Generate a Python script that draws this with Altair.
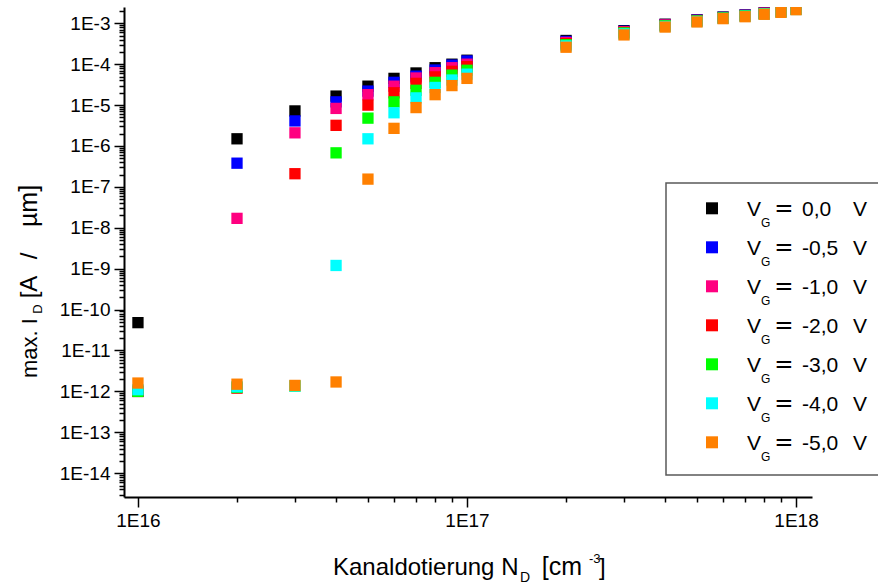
import altair as alt
import pandas as pd

# ---------------- data ----------------
doping = [1e16, 2e16, 3e16, 4e16, 5e16, 6e16, 7e16, 8e16, 9e16, 1e17,
          2e17, 3e17, 4e17, 5e17, 6e17, 7e17, 8e17, 9e17, 1e18]

series_names = ["0,0 V", "-0,5 V", "-1,0 V", "-2,0 V", "-3,0 V", "-4,0 V", "-5,0 V"]
series_numbers = ["0,0", "-0,5", "-1,0", "-2,0", "-3,0", "-4,0", "-5,0"]
series_colors = ["#000000", "#0000FF", "#FF0080", "#FF0000", "#00FF00", "#00FFFF", "#FF8000"]

id_vg_0_0 = [4.8e-11, 1.5e-6, 7.2e-6, 1.66e-5, 2.9e-5, 4.5e-5, 6.1e-5, 8.2e-5, 1.0e-4, 1.25e-4,
             3.8e-4, 6.6e-4, 9.5e-4, 1.22e-3, 1.42e-3, 1.6e-3, 1.8e-3, 2.0e-3, 2.3e-3]
id_vg_0_5 = [1.0e-12, 3.8e-7, 4.1e-6, 1.2e-5, 2.2e-5, 3.6e-5, 5.1e-5, 7.2e-5, 9.5e-5, 1.2e-4,
             3.6e-4, 6.4e-4, 9.3e-4, 1.2e-3, 1.4e-3, 1.58e-3, 1.78e-3, 1.98e-3, 2.28e-3]
id_vg_1_0 = [1.0e-12, 1.7e-8, 2.1e-6, 8.3e-6, 1.8e-5, 2.9e-5, 4.6e-5, 6.2e-5, 8.2e-5, 1.0e-4,
             3.4e-4, 6.25e-4, 9.1e-4, 1.18e-3, 1.38e-3, 1.56e-3, 1.76e-3, 1.96e-3, 2.26e-3]
id_vg_2_0 = [1.0e-12, 1.2e-12, 2.1e-7, 3.2e-6, 1.0e-5, 2.0e-5, 3.4e-5, 4.9e-5, 6.7e-5, 8.7e-5,
             3.2e-4, 6.0e-4, 8.9e-4, 1.16e-3, 1.37e-3, 1.54e-3, 1.74e-3, 1.94e-3, 2.23e-3]
id_vg_3_0 = [1.0e-12, 1.25e-12, 1.35e-12, 6.8e-7, 4.8e-6, 1.2e-5, 2.3e-5, 3.6e-5, 5.4e-5, 7.1e-5,
             3.0e-4, 5.8e-4, 8.7e-4, 1.14e-3, 1.35e-3, 1.52e-3, 1.72e-3, 1.92e-3, 2.2e-3]
id_vg_4_0 = [1.1e-12, 1.3e-12, 1.35e-12, 1.2e-9, 1.5e-6, 6.5e-6, 1.5e-5, 2.7e-5, 4.1e-5, 5.7e-5,
             2.8e-4, 5.5e-4, 8.4e-4, 1.11e-3, 1.32e-3, 1.49e-3, 1.69e-3, 1.89e-3, 2.18e-3]
id_vg_5_0 = [1.6e-12, 1.5e-12, 1.4e-12, 1.7e-12, 1.55e-7, 2.7e-6, 8.7e-6, 1.8e-5, 3.0e-5, 4.5e-5,
             2.6e-4, 5.2e-4, 8.1e-4, 1.08e-3, 1.3e-3, 1.45e-3, 1.66e-3, 1.85e-3, 2.15e-3]

all_series = [id_vg_0_0, id_vg_0_5, id_vg_1_0, id_vg_2_0, id_vg_3_0, id_vg_4_0, id_vg_5_0]

rows = []
for name, vals in zip(series_names, all_series):
    for n, i in zip(doping, vals):
        rows.append({"N": n, "ID": i, "series": name})
df = pd.DataFrame(rows)

# ---------------- layout ----------------
FONT = "Liberation Sans"
OX, OY = 124, 7          # plot-area origin on the page
W, H = 688, 490

x_ticks = [m * 10.0 ** e for e in (15, 16, 17) for m in range(1, 10)] + [1e18]
x_ticks = [v for v in x_ticks if 9.0e15 <= v <= 1.118e18]
y_ticks = [m * 10.0 ** e for e in range(-15, -2) for m in range(1, 10)]
y_ticks = [v for v in y_ticks if 10 ** -14.582 <= v <= 10 ** -2.6015]

major = "abs(log(datum.value)/LN10 - round(log(datum.value)/LN10)) < 1e-6"
lab = f"({major}) ? '1E' + round(log(datum.value)/LN10) : ''"


def make_axis(values, pad):
    return alt.Axis(
        values=values, labelExpr=lab, title=None, grid=False,
        tickSize={"condition": {"test": major, "value": 10}, "value": 5},
        tickColor="black", tickWidth=1.5, domainColor="black", domainWidth=2,
        labelFont=FONT, labelFontSize=19, labelColor="black",
        labelPadding=pad, labelOverlap=False, labelFlush=False,
    )


points = alt.Chart(df).mark_square(size=128, opacity=1, clip=True).encode(
    x=alt.X("N:Q", scale=alt.Scale(type="log", domain=[9.07e15, 1.118e18], nice=False),
            axis=make_axis(x_ticks, 4)),
    y=alt.Y("ID:Q", scale=alt.Scale(type="log", domain=[10 ** -14.582, 10 ** -2.6015], nice=False),
            axis=make_axis(y_ticks, 4)),
    color=alt.Color("series:N", scale=alt.Scale(domain=series_names, range=series_colors), legend=None),
)

one = pd.DataFrame({"d": [0]})


def txt(s, x, y, size, angle=0, align="left", baseline="alphabetic", font=FONT):
    return alt.Chart(one).mark_text(
        text=s, font=font, fontSize=size, angle=angle, align=align,
        baseline=baseline, color="black",
    ).encode(x=alt.value(x - OX), y=alt.value(y - OY))


layers = [points]

# y axis title: max. I_D [A / µm]  (rotated)
layers += [
    txt("max. I", 36.7, 378, 22, angle=270),
    txt("D", 42, 309, 13, angle=270, align="center"),
    txt("[A", 36.7, 287, 24, angle=270, align="center"),
    txt("/", 36.7, 256, 24, angle=270, align="center"),
    txt("µm]", 36.7, 206, 25, angle=270, align="center"),
]
# x axis title: Kanaldotierung N_D [cm^-3]
layers += [
    txt("Kanaldotierung N", 333, 575, 24),
    txt("D", 520, 582, 14),
    txt("[cm", 562, 575, 25, align="center"),
    txt("-3", 589, 563, 13),
    txt("]", 599, 575, 24),
]

# legend box
box = alt.Chart(one).mark_rect(fill="white", stroke="#5a5a5a", strokeWidth=1.5).encode(
    x=alt.value(666 - OX), x2=alt.value(900 - OX), y=alt.value(183 - OY), y2=alt.value(475 - OY)
)
layers.append(box)

for i, (num, col) in enumerate(zip(series_numbers, series_colors)):
    ry = 208.3 + 39.0 * i
    layers.append(
        alt.Chart(one).mark_square(size=144, opacity=1, color=col).encode(
            x=alt.value(712 - OX), y=alt.value(ry - OY))
    )
    layers += [
        txt("V", 747, ry + 7.5, 21),
        txt("G", 761, ry + 18.5, 12),
        txt("=", 784, ry + 7.5, 23, align="center", font="DejaVu Sans"),
        txt(num, 802, ry + 7.5, 21),
        txt("V", 867, ry + 7.5, 21, align="right"),
    ]

chart = alt.layer(*layers).properties(
    width=W, height=H, autosize="none", background="white",
    padding={"left": OX, "top": OY, "right": 878 - OX - W, "bottom": 588 - OY - H},
).configure_view(strokeWidth=0)

chart.save("out.html", embed_options={"renderer": "svg", "actions": False})
